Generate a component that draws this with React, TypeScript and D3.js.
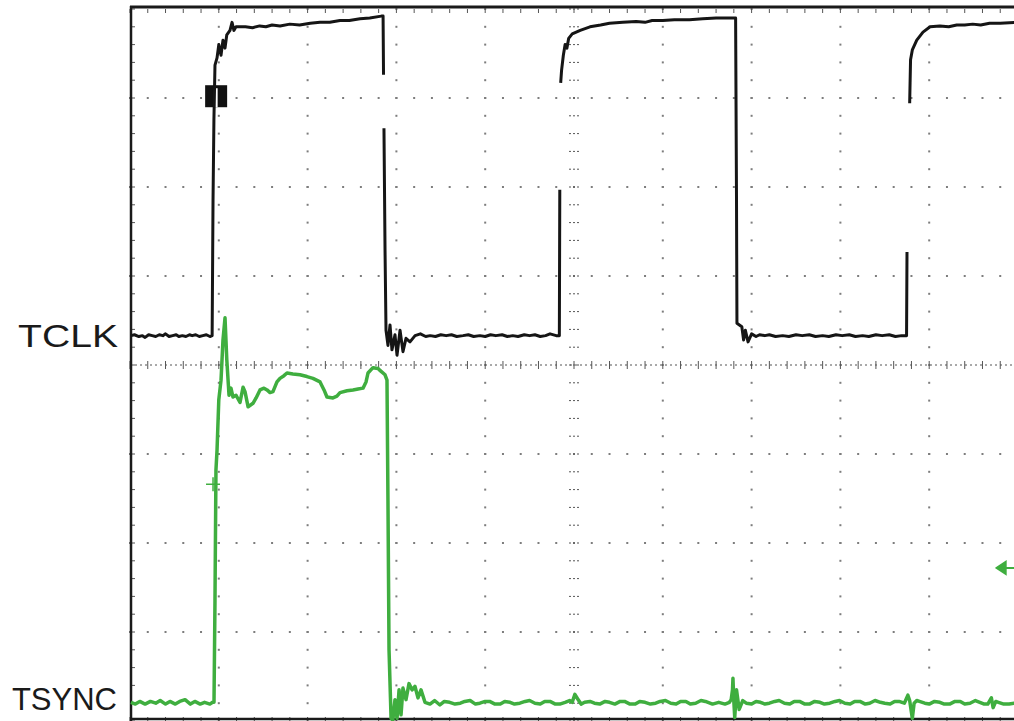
import React from "react";
import * as d3 from "d3";

// Time in graticule divisions (0..10), voltage in divisions (-4..4)
const tclkPoints: ([number, number] | null)[] = [
  [0.01, 0.33], [0.05, 0.34], [0.1, 0.32], [0.14, 0.33], [0.17, 0.31], [0.21, 0.34], [0.25, 0.33], [0.29, 0.32], [0.33, 0.34],
  [0.37, 0.33], [0.4, 0.35], [0.44, 0.32], [0.48, 0.33], [0.52, 0.34], [0.55, 0.32], [0.59, 0.33], [0.63, 0.32], [0.67, 0.34],
  [0.7, 0.33], [0.74, 0.34], [0.78, 0.32], [0.82, 0.33], [0.86, 0.34], [0.9, 0.32], [0.925, 0.33],
  [0.935, 1.85], [0.945, 2.75], [0.957, 3.37], [0.98, 3.45], [1.0, 3.6], [1.025, 3.48], [1.047, 3.65], [1.07, 3.56],
  [1.09, 3.71], [1.126, 3.76], [1.149, 3.85], [1.17, 3.76], [1.194, 3.8],
  [1.3, 3.8], [1.38, 3.79], [1.46, 3.81], [1.53, 3.8], [1.6, 3.82], [1.69, 3.81], [1.8, 3.83], [1.91, 3.82], [2.03, 3.84],
  [2.14, 3.85], [2.25, 3.85], [2.365, 3.87], [2.47, 3.87], [2.59, 3.89], [2.7, 3.9], [2.83, 3.92],
  [2.85, 3.92], [2.855, 3.26], null,
  [2.86, 2.66], [2.872, 1.29], [2.883, 0.39], [2.905, 0.22], [2.928, 0.45], [2.95, 0.17], [2.984, 0.34], [3.007, 0.11],
  [3.041, 0.39], [3.074, 0.15], [3.108, 0.3], [3.153, 0.26], [3.21, 0.33], [3.27, 0.35],
  [3.33, 0.32], [3.38, 0.33], [3.44, 0.32], [3.5, 0.34], [3.56, 0.33], [3.62, 0.34], [3.68, 0.32], [3.75, 0.33], [3.81, 0.34],
  [3.87, 0.32], [3.94, 0.33], [4.0, 0.32], [4.06, 0.34], [4.12, 0.33], [4.19, 0.34], [4.25, 0.32], [4.31, 0.33], [4.37, 0.32],
  [4.44, 0.34], [4.5, 0.33], [4.56, 0.34], [4.62, 0.32], [4.68, 0.33], [4.73, 0.35], [4.8, 0.33], [4.835, 0.33],
  [4.84, 1.97], null,
  [4.85, 3.17], [4.86, 3.31], [4.88, 3.48], [4.9, 3.6], [4.92, 3.56], [4.94, 3.67], [4.98, 3.72], [5.07, 3.76], [5.18, 3.8],
  [5.3, 3.82], [5.4, 3.84], [5.55, 3.85], [5.7, 3.86], [5.8, 3.85], [5.88, 3.87], [6.0, 3.87], [6.13, 3.88], [6.3, 3.88],
  [6.45, 3.89], [6.6, 3.9], [6.79, 3.9],
  [6.82, 3.9], [6.83, 1.85], [6.835, 0.47], [6.89, 0.43], [6.91, 0.28], [6.93, 0.39], [6.96, 0.26], [7.0, 0.35], [7.05, 0.32],
  [7.09, 0.34], [7.15, 0.33], [7.2, 0.34], [7.27, 0.32], [7.35, 0.33], [7.42, 0.32], [7.5, 0.34], [7.57, 0.33], [7.65, 0.34],
  [7.72, 0.32], [7.8, 0.33], [7.87, 0.32], [7.95, 0.34], [8.02, 0.33], [8.1, 0.34], [8.17, 0.32], [8.25, 0.33], [8.32, 0.32],
  [8.4, 0.34], [8.47, 0.33], [8.55, 0.34], [8.62, 0.32], [8.69, 0.33], [8.745, 0.33],
  [8.75, 1.27], null,
  [8.78, 2.94], [8.79, 3.43], [8.81, 3.54], [8.86, 3.65], [8.93, 3.74], [9.01, 3.8], [9.12, 3.81], [9.22, 3.8], [9.31, 3.82],
  [9.4, 3.82], [9.49, 3.83], [9.58, 3.82], [9.68, 3.84], [9.8, 3.84], [9.96, 3.85],
];

const tsyncPoints: [number, number][] = [
  [0.01, -3.79], [0.06, -3.81], [0.11, -3.78], [0.17, -3.81], [0.23, -3.78], [0.29, -3.8], [0.34, -3.77], [0.4, -3.81],
  [0.45, -3.78], [0.51, -3.81], [0.56, -3.78], [0.62, -3.76], [0.68, -3.81], [0.73, -3.78], [0.79, -3.81], [0.84, -3.79],
  [0.9, -3.81], [0.93, -3.79],
  [0.946, -3.79], [0.957, -2.65], [0.968, -1.18], [0.98, -0.96], [1.0, -0.39], [1.025, -0.17], [1.047, 0.28], [1.07, 0.53],
  [1.09, 0.06], [1.115, -0.34], [1.137, -0.26], [1.16, -0.36], [1.194, -0.34], [1.239, -0.42], [1.273, -0.25], [1.295, -0.3],
  [1.33, -0.47], [1.385, -0.43], [1.42, -0.37], [1.464, -0.28], [1.509, -0.26], [1.543, -0.28], [1.577, -0.31], [1.61, -0.3],
  [1.655, -0.19], [1.689, -0.15], [1.734, -0.12], [1.768, -0.09], [1.835, -0.1], [1.914, -0.11], [1.993, -0.13], [2.06, -0.15],
  [2.14, -0.19], [2.185, -0.28], [2.218, -0.36], [2.286, -0.37], [2.33, -0.35], [2.365, -0.31], [2.444, -0.29], [2.511, -0.28],
  [2.568, -0.27], [2.624, -0.26], [2.658, -0.19], [2.68, -0.09], [2.736, -0.03], [2.793, -0.04], [2.815, -0.06], [2.872, -0.11],
  [2.894, -0.17],
  [2.905, -1.52], [2.917, -3.2], [2.94, -3.97], [2.96, -3.99], [2.984, -3.76], [3.007, -3.97], [3.03, -3.65], [3.052, -3.93],
  [3.074, -3.63], [3.108, -3.76], [3.142, -3.58], [3.176, -3.65], [3.209, -3.61], [3.243, -3.74], [3.277, -3.65], [3.322, -3.79],
  [3.378, -3.81], [3.43, -3.77], [3.49, -3.82], [3.54, -3.78], [3.6, -3.79], [3.66, -3.81], [3.72, -3.8], [3.77, -3.78],
  [3.83, -3.77], [3.89, -3.81], [3.94, -3.8], [4.0, -3.78], [4.05, -3.78], [4.11, -3.81], [4.17, -3.81], [4.22, -3.78],
  [4.28, -3.79], [4.33, -3.81], [4.39, -3.8], [4.45, -3.78], [4.5, -3.77], [4.56, -3.8], [4.62, -3.81], [4.67, -3.78],
  [4.73, -3.78], [4.79, -3.81], [4.84, -3.81], [4.9, -3.79], [4.95, -3.77], [4.98, -3.79], [5.01, -3.7], [5.04, -3.75],
  [5.08, -3.81], [5.12, -3.79], [5.18, -3.78], [5.23, -3.8], [5.29, -3.81], [5.35, -3.78], [5.4, -3.79], [5.46, -3.81],
  [5.52, -3.78], [5.57, -3.78], [5.63, -3.81], [5.69, -3.81], [5.74, -3.78], [5.8, -3.79], [5.86, -3.81], [5.92, -3.8],
  [5.97, -3.78], [6.03, -3.77], [6.09, -3.8], [6.15, -3.81], [6.2, -3.78], [6.26, -3.78], [6.31, -3.81], [6.37, -3.8],
  [6.43, -3.77], [6.48, -3.78], [6.56, -3.81], [6.63, -3.79], [6.7, -3.81], [6.75, -3.79],
  [6.77, -3.76], [6.785, -3.65], [6.79, -3.52], [6.8, -3.78], [6.81, -3.96], [6.83, -3.65], [6.86, -3.87], [6.9, -3.77],
  [6.94, -3.8], [7.0, -3.81], [7.05, -3.78], [7.1, -3.79], [7.15, -3.81], [7.2, -3.8], [7.26, -3.78], [7.31, -3.77],
  [7.37, -3.8], [7.43, -3.81], [7.48, -3.78], [7.54, -3.78], [7.6, -3.81], [7.65, -3.81], [7.71, -3.78], [7.77, -3.79],
  [7.82, -3.81], [7.88, -3.8], [7.94, -3.78], [7.99, -3.77], [8.05, -3.8], [8.11, -3.81], [8.16, -3.78], [8.22, -3.78],
  [8.28, -3.81], [8.33, -3.8], [8.39, -3.77], [8.45, -3.79], [8.5, -3.8], [8.56, -3.81], [8.61, -3.78], [8.66, -3.78],
  [8.72, -3.8], [8.76, -3.71], [8.78, -3.77], [8.81, -3.97], [8.83, -3.8], [8.86, -3.77], [8.89, -3.78], [8.95, -3.8],
  [9.0, -3.81], [9.06, -3.78], [9.12, -3.79], [9.17, -3.81], [9.23, -3.81], [9.29, -3.78], [9.35, -3.78], [9.4, -3.81],
  [9.46, -3.8], [9.52, -3.77], [9.57, -3.79], [9.62, -3.81], [9.66, -3.81], [9.7, -3.74], [9.72, -3.85], [9.75, -3.78],
  [9.78, -3.79], [9.84, -3.81], [9.9, -3.81], [9.96, -3.8],
];

const channelLabels = ["TCLK", "TSYNC"];
const channelLevels = [0.33, -3.8]; // ground reference of each channel, divisions
const ch1Marker: [number, number] = [0.97, 3.02];
const triggerPoint: [number, number] = [0.935, -1.34];
const ch2Arrow = -2.28;

const W = 1014;
const H = 721;

export default function App() {
  const x = d3.scaleLinear().domain([0, 10]).range([130, 1018]);
  const y = d3.scaleLinear().domain([-4, 4]).range([721, 9]);

  const line = d3
    .line<[number, number] | null>()
    .defined((d) => d !== null)
    .x((d) => x((d as [number, number])[0]))
    .y((d) => y((d as [number, number])[1]));

  const minorX = d3.range(0, 51).map((i) => i * 0.2);
  const minorY = d3.range(0, 41).map((i) => -4 + i * 0.2);
  const majorX = [1, 2, 3, 4, 6, 7, 8, 9];
  const majorY = [-3, -2, -1, 1, 2, 3];

  const dotColor = "#7d7d7d";
  const green = "#3fae3f";

  return (
    <svg
      width={W}
      height={H}
      style={{ position: "absolute", left: 0, top: 0, background: "#fff" }}
      fontFamily="'Liberation Sans', Arial, sans-serif"
    >
      <rect x={0} y={0} width={W} height={H} fill="#fff" />
      {/* dotted graticule */}
      <g fill={dotColor}>
        {majorX.map((gx) =>
          minorY.map((my) => (
            <rect key={`v${gx}_${my}`} x={x(gx) - 1} y={y(my) - 1} width={2} height={2} />
          ))
        )}
        {majorY.map((gy) =>
          minorX.map((mx) => (
            <rect key={`h${gy}_${mx}`} x={x(mx) - 1} y={y(gy) - 1} width={2} height={2} />
          ))
        )}
      </g>
      {/* centre axes with minor ticks */}
      <g stroke="#555" strokeWidth={1}>
        <line x1={x(0)} x2={x(10)} y1={y(0)} y2={y(0)} strokeDasharray="2,3" />
        {minorX.map((mx) => (
          <line key={`ct${mx}`} x1={x(mx)} x2={x(mx)} y1={y(0) - 4} y2={y(0) + 4} />
        ))}
        {minorY.map((my) => (
          <line key={`cv${my}`} x1={x(5) - 5} x2={x(5) + 5} y1={y(my)} y2={y(my)} strokeDasharray="2,2" />
        ))}
        {/* frame ticks */}
        {minorY.map((my) => (
          <line key={`lt${my}`} x1={x(0)} x2={x(0) + 5} y1={y(my)} y2={y(my)} />
        ))}
        {minorX.map((mx) => (
          <line key={`tt${mx}`} x1={x(mx)} x2={x(mx)} y1={y(4)} y2={y(4) + 4} />
        ))}
        {minorX.map((mx) => (
          <line key={`bt${mx}`} x1={x(mx)} x2={x(mx)} y1={y(-4) - 4} y2={y(-4)} />
        ))}
      </g>
      {/* frame */}
      <g stroke="#1a1a1a" fill="none">
        <line x1={x(0) + 1} x2={x(0) + 1} y1={y(4) - 3} y2={y(-4)} strokeWidth={2.5} />
        <line x1={x(0)} x2={x(10)} y1={y(4) - 2} y2={y(4) - 2} strokeWidth={3} />
        <line x1={x(0)} x2={x(10)} y1={y(-4) - 2} y2={y(-4) - 2} strokeWidth={2.5} />
      </g>
      {/* channel 1 marker box */}
      <rect x={x(ch1Marker[0]) - 11} y={y(ch1Marker[1]) - 11} width={22} height={22} fill="#111" />
      <rect x={x(ch1Marker[0]) - 2.5} y={y(ch1Marker[1]) - 8} width={4} height={19} fill="#fff" />
      {/* traces */}
      <path d={line(tsyncPoints) ?? ""} fill="none" stroke={green} strokeWidth={3.5} strokeLinejoin="round" />
      <path d={line(tclkPoints) ?? ""} fill="none" stroke="#151515" strokeWidth={3} strokeLinejoin="round" />
      {/* trigger cross */}
      <g stroke={green} strokeWidth={1.5}>
        <line x1={x(triggerPoint[0]) - 7} x2={x(triggerPoint[0]) + 7} y1={y(triggerPoint[1])} y2={y(triggerPoint[1])} />
        <line x1={x(triggerPoint[0])} x2={x(triggerPoint[0])} y1={y(triggerPoint[1]) - 7} y2={y(triggerPoint[1]) + 7} />
      </g>
      {/* channel 2 level arrow */}
      <path
        d={`M${x(9.76)},${y(ch2Arrow)} l9,-6 v12 z M${x(9.76) + 8},${y(ch2Arrow)} H${W}`}
        fill={green}
        stroke={green}
        strokeWidth={2}
      />
      {/* labels */}
      <g fill="#1a1a1a" fontSize={31} textAnchor="end">
        <text x={118} y={y(channelLevels[0]) + 11} textLength={100} lengthAdjust="spacingAndGlyphs">
          {channelLabels[0]}
        </text>
        <text x={117} y={y(channelLevels[1]) + 7}>{channelLabels[1]}</text>
      </g>
    </svg>
  );
}
